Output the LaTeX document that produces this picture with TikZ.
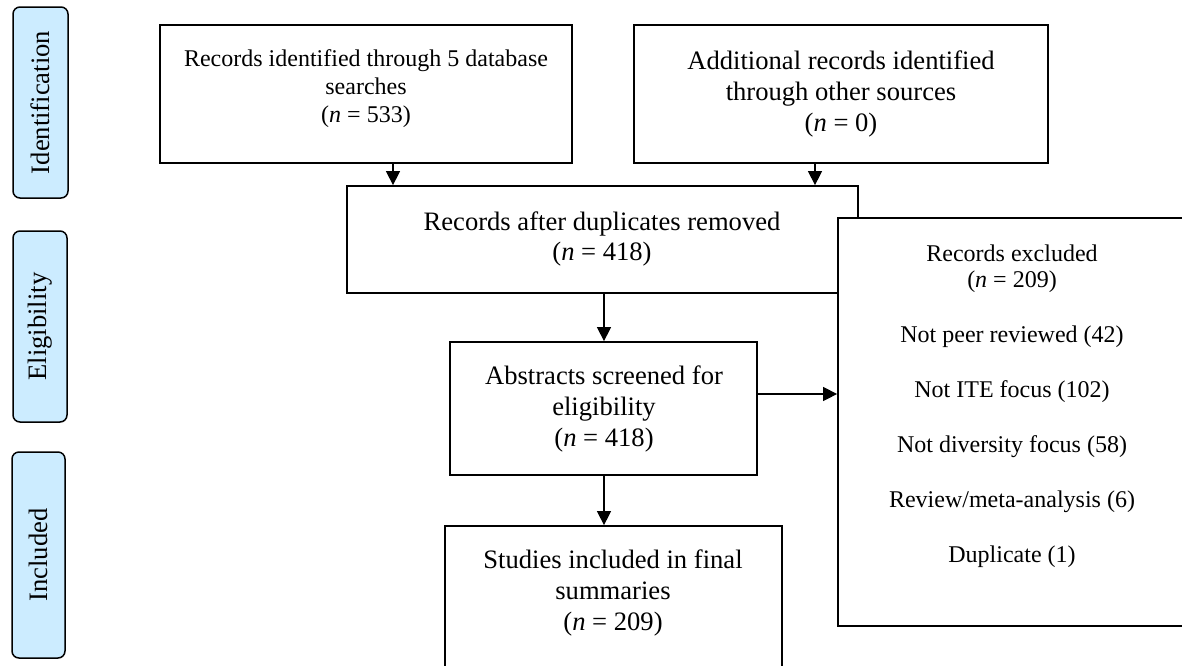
\documentclass[tikz,border=0pt]{standalone}
\usepackage{fontspec}
\setmainfont{Liberation Serif}
\usetikzlibrary{arrows.meta}
\definecolor{labelblue}{RGB}{204,236,255}
\begin{document}
\begin{tikzpicture}[x=1pt,y=-1pt,
  box/.style={draw=black,line width=1.8pt,rectangle,inner sep=0pt,fill=white},
  txt/.style={align=center,inner sep=0pt,font=\fontsize{26.6}{30.6}\selectfont},
  txts/.style={align=center,inner sep=0pt,font=\fontsize{24}{27.6}\selectfont},
  lab/.style={draw=black,line width=1.5pt,rounded corners=7pt,fill=labelblue,inner sep=0pt,
              rotate=90,font=\fontsize{26.6}{30.6}\selectfont},
  arr/.style={line width=1.4pt,-{Triangle[length=14pt,width=14pt]}}]
\fill[white] (0,0) rectangle (1182,665);
\useasboundingbox (0,0) rectangle (1182,665);

% stage labels
\node[lab, minimum width=191pt, minimum height=55pt] (lId) at (40.5,102.5) {Identification};
\node[lab, minimum width=191pt, minimum height=54pt] (lEl) at (40,326.5) {Eligibility};
\node[lab, minimum width=206pt, minimum height=53pt] (lIn) at (38.5,555) {Included};

% boxes
\node[box, minimum width=412pt, minimum height=138pt] (boxA) at (366,94) {};
\node[box, minimum width=414pt, minimum height=138pt] (boxB) at (841,94) {};
\node[box, minimum width=511pt, minimum height=107pt] (dup) at (602.5,239.5) {};
\node[box, minimum width=382pt, minimum height=408pt] (excl) at (1029,422) {};
\node[box, minimum width=307pt, minimum height=133pt] (abs) at (603.5,408.5) {};
\node[box, minimum width=337pt, minimum height=148pt] (stud) at (613.5,600) {};

% texts
\node[txts] (tA) at (366,88.5) {Records identified through 5 database\\searches\\(\textit{n} = 533)};
\node[txt] (tB) at (841,94) {Additional records identified\\through other sources\\(\textit{n} = 0)};
\node[txt] (tDup) at (602,239) {Records after duplicates removed\\(\textit{n} = 418)};
\node[txt] (tAbs) at (604,409) {Abstracts screened for\\eligibility\\(\textit{n} = 418)};
\node[txt] (tStud) at (613,593) {Studies included in final\\summaries\\(\textit{n} = 209)};

\node[txts] (e1) at (1012,253) {Records excluded};
\node[txts] (e2) at (1012,282) {(\textit{n} = 209)};
\node[txts] (e3) at (1012,337) {Not peer reviewed (42)};
\node[txts] (e4) at (1012,392) {Not ITE focus (102)};
\node[txts] (e5) at (1012,447) {Not diversity focus (58)};
\node[txts] (e6) at (1012,502) {Review/meta-analysis (6)};
\node[txts] (e7) at (1012,557) {Duplicate (1)};

% connectors
\coordinate (xA) at (393,0);
\coordinate (xB) at (815,0);
\coordinate (xC) at (604,0);
\coordinate (yE) at (0,394);
\draw[arr] (boxA.south -| xA) -- (dup.north -| xA);
\draw[arr] (boxB.south -| xB) -- (dup.north -| xB);
\draw[arr] (dup.south -| xC) -- (abs.north -| xC);
\draw[arr] (abs.east |- yE) -- (excl.west |- yE);
\draw[arr] (abs.south -| xC) -- (stud.north -| xC);
\end{tikzpicture}
\end{document}
